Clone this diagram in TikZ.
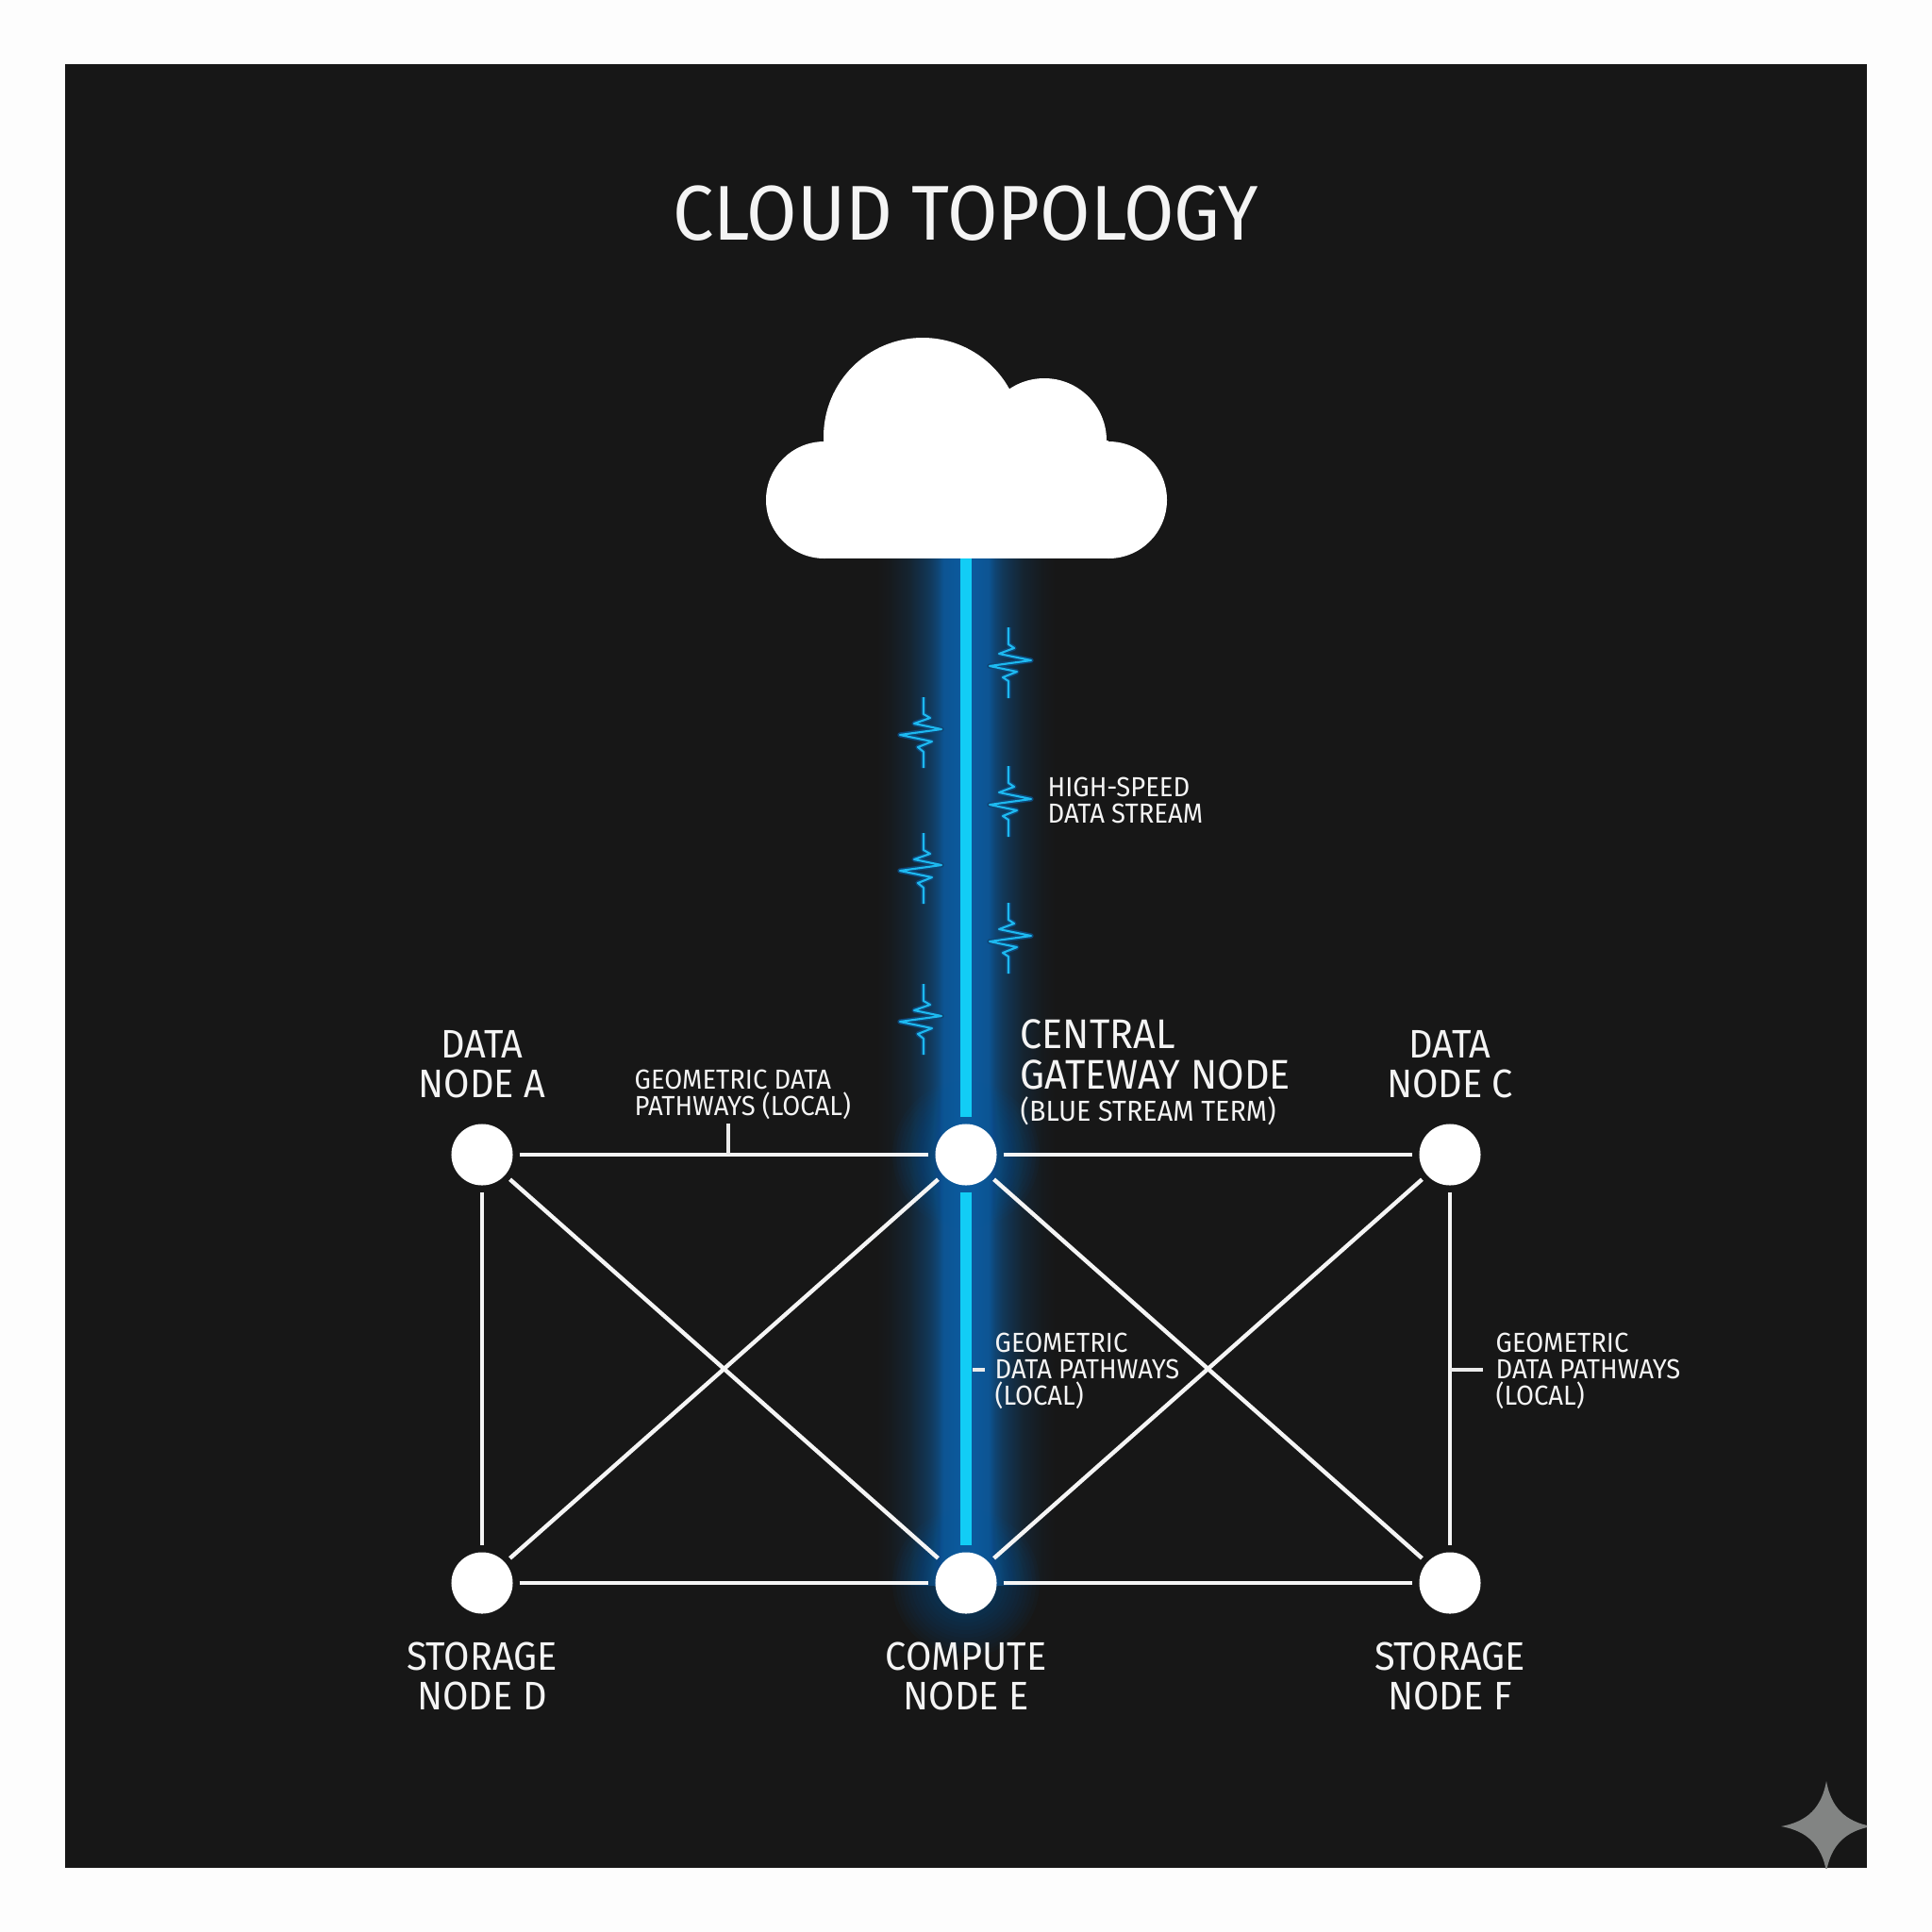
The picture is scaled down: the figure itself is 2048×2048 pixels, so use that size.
\documentclass[tikz,border=0pt]{standalone}
\usepackage{fontspec}
\setmainfont{Fira Sans}[FakeStretch=0.94]
\definecolor{pagebg}{HTML}{FDFDFD}
\definecolor{panel}{HTML}{171717}
\definecolor{streamc}{HTML}{12CDF5}
\definecolor{pulsec}{HTML}{1DB9F0}
\definecolor{pulseg}{HTML}{0E4676}
\definecolor{glowc}{HTML}{0B5FA8}
\definecolor{textc}{HTML}{F4F4F4}
\definecolor{starc}{HTML}{828483}
\pgfdeclarehorizontalshading{streamglow}{100bp}{
 color(0bp)=(panel); color(25bp)=(panel);
 color(28.7bp)=(panel!95!glowc);
 color(34bp)=(panel!82!glowc);
 color(39.6bp)=(panel!55!glowc);
 color(42bp)=(panel!35!glowc);
 color(43.6bp)=(glowc!85!panel);
 color(48bp)=(glowc!92!panel);
 color(52bp)=(glowc!92!panel);
 color(56.4bp)=(glowc!85!panel);
 color(58bp)=(panel!35!glowc);
 color(60.4bp)=(panel!55!glowc);
 color(66bp)=(panel!82!glowc);
 color(71.3bp)=(panel!95!glowc);
 color(75bp)=(panel); color(100bp)=(panel)}
\tikzset{
 x=0.01cm,y=-0.01cm,
 dot/.style={circle,fill=white,minimum size=0.65cm,inner sep=0pt,outer sep=0.07cm},
 link/.style={draw=white!96!black,line width=1.25pt},
 leader/.style={draw=white!92!black,line width=1pt},
 stream/.style={draw=streamc,line width=3.4pt},
 big/.style={text=textc,align=center,font=\fontsize{12}{12}\selectfont,inner sep=0pt},
 small/.style={text=textc,align=left,anchor=west,font=\fontsize{8.3}{8}\selectfont,inner sep=0pt},
 pulseR/.pic={
  \draw[pulseg,line width=1.5pt,line join=round] (0,0)--(0,18)--(6,22)--(-10,28)--(24,35)--(-20,41)--(9,47)--(-6,53)--(0,57)--(0,75);
  \draw[pulsec,line width=0.6pt,line join=round] (0,0)--(0,18)--(6,22)--(-10,28)--(24,35)--(-20,41)--(9,47)--(-6,53)--(0,57)--(0,75);},
 pulseL/.pic={
  \draw[pulseg,line width=1.5pt,line join=round] (0,0)--(0,18)--(7,22)--(-10,28)--(19,34)--(-25,40)--(9,47)--(-6,53)--(0,58)--(0,75);
  \draw[pulsec,line width=0.6pt,line join=round] (0,0)--(0,18)--(7,22)--(-10,28)--(19,34)--(-25,40)--(9,47)--(-6,53)--(0,58)--(0,75);},
}
\begin{document}
\begin{tikzpicture}
\useasboundingbox (0,0) rectangle (2048,2048);
\fill[pagebg] (0,0) rectangle (2048,2048);
\fill[panel] (69,68) rectangle (1979,1980);
% glow
\shade[shading=streamglow] (930,592) rectangle (1118,1680);
\foreach \r in {34,38,42,46,50,54,58,62,66,70,74,78}{
 \fill[glowc,opacity=0.045] (1024,1224) circle (\r);
 \fill[glowc,opacity=0.045] (1024,1678) circle (\r);
}
% cloud
\fill[white] (874,530) circle (62);
\fill[white] (1175,530) circle (62);
\fill[white] (978,463) circle (105);
\fill[white] (1107,467) circle (66);
\fill[white] (874,467) rectangle (1175,592);
\coordinate (cloudbase) at (1024,592);
% nodes
\node[dot] (a) at (511,1224) {};
\node[dot] (b) at (1024,1224) {};
\node[dot] (c) at (1537,1224) {};
\node[dot] (d) at (511,1678) {};
\node[dot] (e) at (1024,1678) {};
\node[dot] (f) at (1537,1678) {};
% streams
\draw[stream] (cloudbase) -- (b);
\draw[stream] (b) -- (e);
% links
\foreach \p/\q in {a/b,b/c,d/e,e/f,a/d,c/f,a/e,b/d,b/f,c/e}{
 \draw[link] (\p) -- (\q);
}
% leaders
\coordinate (t1) at (772,1191); \coordinate (t2) at (772,1224);
\draw[leader] (t1) -- (t2);
\coordinate (m1) at (1031,1452); \coordinate (m2) at (1044,1452);
\draw[leader] (m1) -- (m2);
\coordinate (r1) at (1537,1452); \coordinate (r2) at (1572,1452);
\draw[leader] (r1) -- (r2);
% pulses
\pic at (1069,665) {pulseR};
\pic at (1069,812) {pulseR};
\pic at (1069,957) {pulseR};
\pic at (979,739) {pulseL};
\pic at (979,883) {pulseL};
\pic at (979,1043) {pulseL};
% text
\node[big,font=\fontsize{23.4}{24}\selectfont] (title) at (1024,226) {CLOUD TOPOLOGY};
\node[big] (la) at (511,1128) {DATA\\NODE A};
\node[big] (lc) at (1537,1128) {DATA\\NODE C};
\node[big] (ld) at (511,1777) {STORAGE\\NODE D};
\node[big] (le) at (1024,1777) {COMPUTE\\NODE E};
\node[big] (lf) at (1537,1777) {STORAGE\\NODE F};
\node[big,align=left,anchor=west,font=\fontsize{12.5}{12}\selectfont] (lb) at (1081,1137) {CENTRAL\\GATEWAY NODE\\[-2.2pt]{\fontsize{8.7}{10}\selectfont(BLUE STREAM TERM)}};
\node[small] (s1) at (1110,848) {HIGH-SPEED\\DATA STREAM};
\node[small] (s2) at (672,1160) {GEOMETRIC DATA\\PATHWAYS (LOCAL)};
\node[small] (s3) at (1054,1453) {GEOMETRIC\\DATA PATHWAYS\\(LOCAL)};
\node[small] (s4) at (1585,1453) {GEOMETRIC\\DATA PATHWAYS\\(LOCAL)};
% star
\begin{scope}
\clip (69,68) rectangle (1979,1980);
\fill[starc] (1936,1888) .. controls (1941,1916) and (1956,1931) .. (1984,1936)
 .. controls (1956,1941) and (1941,1956) .. (1936,1984)
 .. controls (1931,1956) and (1916,1941) .. (1888,1936)
 .. controls (1916,1931) and (1931,1916) .. (1936,1888) -- cycle;
\end{scope}
\end{tikzpicture}
\end{document}
